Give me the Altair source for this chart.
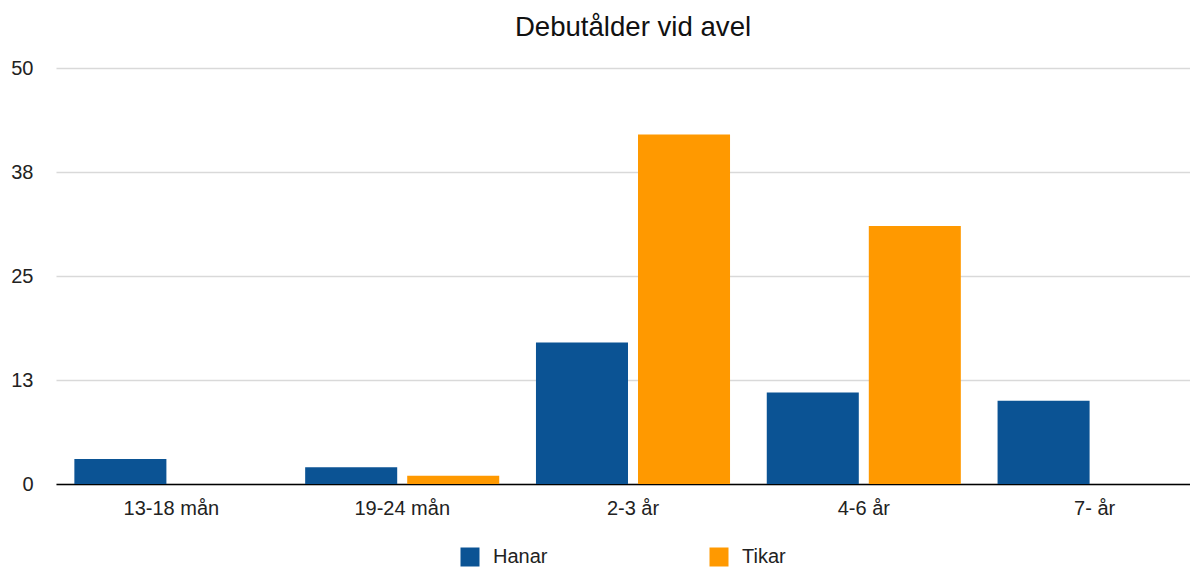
import altair as alt
import pandas as pd

categories = ["13-18 mån", "19-24 mån", "2-3 år", "4-6 år", "7- år"]
series = ["Hanar", "Tikar"]
hanar = [3, 2, 17, 11, 10]
tikar = [None, 1, 42, 31, None]
y_ticks = [0, 12.5, 25, 37.5, 50]
colors = ["#0b5394", "#ff9900"]
title_text = "Debutålder vid avel"

rows = []
for c, h, t in zip(categories, hanar, tikar):
    if h is not None:
        rows.append({"kategori": c, "kön": "Hanar", "antal": h})
    if t is not None:
        rows.append({"kategori": c, "kön": "Tikar", "antal": t})
df = pd.DataFrame(rows)

FONT = "Liberation Sans"
W = 1154
H = 416

chart = alt.Chart(df).mark_bar().encode(
    x=alt.X("kategori:N", sort=categories,
            scale=alt.Scale(domain=categories, paddingInner=0, paddingOuter=0),
            axis=alt.Axis(title=None, labelAngle=0, labelFontSize=20, labelFont=FONT,
                          labelColor="#222222", ticks=False, tickSize=0, labelPadding=14,
                          domain=True, domainColor="#000000", domainWidth=1.5, grid=False)),
    xOffset=alt.XOffset("kön:N", scale=alt.Scale(domain=series, paddingInner=0.098, paddingOuter=0.18)),
    y=alt.Y("antal:Q", scale=alt.Scale(domain=[0, 50], nice=False),
            axis=alt.Axis(title=None, values=y_ticks, format=".0f", labelFontSize=20, labelFont=FONT,
                          labelColor="#222222", ticks=False, tickSize=0, labelPadding=23,
                          domain=False, grid=True, gridColor="#d9d9d9", gridWidth=1.5)),
    color=alt.Color("kön:N", scale=alt.Scale(domain=series, range=colors),
                    legend=alt.Legend(title=None, orient="none", legendX=404, legendY=479,
                                      direction="horizontal", columns=2, columnPadding=161,
                                      symbolType="square", symbolSize=361, symbolStrokeWidth=0,
                                      labelFontSize=20, labelFont=FONT, labelColor="#222222",
                                      labelOffset=13, padding=0)),
).properties(
    width=W,
    height=H,
    title=alt.TitleParams(title_text, fontSize=27.6, font=FONT, fontWeight="normal", color="#111111",
                          anchor="middle", baseline="alphabetic", offset=20, dy=26),
    autosize=alt.AutoSizeParams(type="none"),
    padding={"left": 48, "top": 60, "right": -20, "bottom": 86},
).configure_view(stroke=None)

chart.save("out.html", embed_options={"renderer": "svg", "actions": False})
